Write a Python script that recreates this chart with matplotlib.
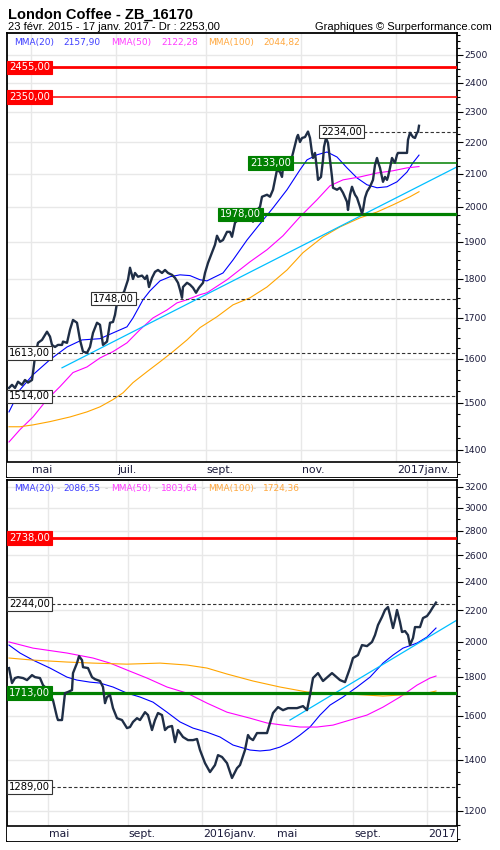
import matplotlib
matplotlib.use("Agg")
import matplotlib.pyplot as plt
from matplotlib.patches import Rectangle
from matplotlib.ticker import FixedLocator, FormatStrFormatter, NullFormatter
import matplotlib.transforms as mtransforms

# DAILY PANEL (x = session index)
top_x = [0, 3, 6, 9, 13, 16, 19, 23, 24, 26, 29, 33, 38, 41, 43, 46, 49, 53, 54, 58,
         61, 64, 68, 71, 74, 78, 81, 84, 88, 91, 94, 98, 101, 104, 106, 108, 109, 115, 119, 121,
         124, 126, 129, 133, 136, 138, 140, 143, 146, 149, 153, 156, 159, 163, 166, 169, 171, 173, 174, 178,
         181, 184, 187, 190, 194, 196, 199, 203, 206, 208, 211, 214, 218, 221, 223, 226, 229, 233, 238, 244,
         248, 251, 253, 258, 261, 264, 266, 268, 271, 273, 274, 278, 281, 283, 286, 288, 289, 291, 293, 296,
         299, 301, 303, 304, 306, 308, 309, 312, 314, 315, 317, 319, 321, 323, 324, 328, 331, 334, 338, 339,
         341, 343, 344, 346, 348, 351, 353, 354, 356, 358, 361, 364, 366, 368, 369, 371, 373, 374, 376, 378,
         379, 381, 383, 384, 386, 388, 389, 393, 398, 399, 401, 404, 406, 408, 409, 410]
top_close = [1533, 1540, 1533, 1547, 1540, 1551, 1545, 1551, 1568, 1605, 1638, 1645, 1665, 1653, 1633, 1628, 1633, 1633, 1641, 1638,
             1670, 1694, 1687, 1645, 1617, 1614, 1628, 1662, 1687, 1682, 1633, 1641, 1687, 1689, 1707, 1737, 1752, 1765, 1797, 1829,
             1799, 1815, 1805, 1808, 1799, 1808, 1778, 1802, 1818, 1823, 1815, 1823, 1815, 1810, 1802, 1789, 1771, 1750, 1778, 1789,
             1784, 1776, 1763, 1776, 1789, 1815, 1842, 1870, 1892, 1917, 1900, 1905, 1928, 1928, 1914, 1954, 1962, 1962, 1982, 1957,
             1991, 2000, 2030, 2036, 2030, 2051, 2081, 2112, 2105, 2090, 2118, 2127, 2143, 2152, 2191, 2216, 2223, 2200, 2213, 2216,
             2234, 2213, 2165, 2149, 2165, 2112, 2081, 2090, 2143, 2184, 2213, 2197, 2143, 2090, 2057, 2051, 2057, 2042, 2015, 1991,
             2036, 2060, 2051, 2036, 2027, 2000, 1980, 1991, 2027, 2045, 2060, 2081, 2127, 2149, 2137, 2118, 2090, 2075, 2090, 2081,
             2090, 2118, 2149, 2143, 2134, 2159, 2165, 2165, 2165, 2207, 2230, 2216, 2213, 2230, 2233, 2253]

top_ma20_x = [0, 11, 24, 41, 58, 73, 91, 104, 118, 124, 134, 141, 151, 161, 171, 181, 191, 198, 204, 214,
              224, 238, 251, 264, 278, 291, 298, 308, 318, 328, 338, 348, 358, 368, 378, 388, 398, 404, 410]
top_ma20 = [1480, 1529, 1563, 1598, 1628, 1645, 1648, 1662, 1677, 1699, 1745, 1768, 1794, 1805, 1810, 1808, 1797, 1794, 1802, 1815,
            1850, 1905, 1951, 1997, 2051, 2112, 2143, 2159, 2168, 2152, 2118, 2087, 2066, 2057, 2060, 2075, 2105, 2134, 2158]

top_ma50_x = [0, 11, 24, 38, 51, 64, 78, 91, 104, 118, 131, 144, 158, 168, 178, 191, 198, 218, 241, 258,
              274, 291, 308, 321, 334, 351, 368, 384, 398, 410]
top_ma50 = [1416, 1442, 1469, 1507, 1536, 1568, 1581, 1602, 1617, 1638, 1670, 1699, 1719, 1737, 1745, 1758, 1763, 1797, 1845, 1878,
            1917, 1971, 2021, 2063, 2081, 2090, 2102, 2109, 2118, 2122]

top_ma100_x = [0, 11, 24, 41, 61, 78, 91, 104, 114, 124, 138, 151, 164, 178, 191, 208, 224, 241, 258, 278,
               294, 314, 331, 351, 368, 384, 401, 410]
top_ma100 = [1448, 1448, 1452, 1459, 1469, 1480, 1491, 1507, 1522, 1545, 1570, 1593, 1617, 1645, 1675, 1702, 1732, 1750, 1778, 1823,
             1870, 1914, 1942, 1968, 1985, 2006, 2030, 2045]

top_trend_x = [53, 448]
top_trend = [1579, 2121]

top_levels = [2455, 2350, 2234, 2133, 1978, 1748, 1613, 1514]
top_level_from = [-2, -2, 310, 239, 209, 82, -2, -2]
top_level_kind = ["res2", "res", "dash", "sup", "sup2", "dash", "dash", "dash"]

top_months = ["mai", "juil.", "sept.", "nov.", "2017janv."]
top_month_x = [21.7, 106.7, 196.7, 291.7, 386.7]
top_ma_last = ["2157,90", "2122,28", "2044,82"]

# WEEKLY PANEL
low_x = [0, 3, 6, 9, 14, 18, 23, 26, 31, 34, 39, 44, 48, 49, 53, 56, 59, 63, 64, 68,
         70, 73, 74, 79, 83, 86, 91, 94, 96, 98, 101, 104, 108, 113, 118, 121, 124, 128, 131, 136,
         139, 143, 146, 149, 153, 156, 159, 163, 166, 169, 174, 179, 184, 188, 191, 196, 201, 206, 209, 213,
         218, 223, 228, 231, 236, 239, 241, 244, 248, 253, 258, 261, 264, 269, 274, 279, 283, 288, 294, 298,
         301, 304, 309, 314, 323, 331, 336, 341, 344, 349, 353, 358, 363, 366, 369, 373, 376, 379, 381, 384,
         386, 388, 391, 393, 396, 399, 401, 404, 406, 411, 414, 418, 421, 424, 427]
low_close = [1848, 1766, 1793, 1798, 1793, 1782, 1809, 1798, 1793, 1755, 1729, 1677, 1593, 1579, 1579, 1713, 1719, 1729, 1820, 1876,
             1916, 1893, 1853, 1848, 1798, 1787, 1777, 1745, 1662, 1693, 1703, 1637, 1588, 1579, 1541, 1546, 1570, 1588, 1579, 1617,
             1603, 1532, 1579, 1613, 1603, 1532, 1546, 1551, 1477, 1532, 1500, 1486, 1486, 1491, 1442, 1386, 1349, 1378, 1420, 1412,
             1386, 1325, 1365, 1378, 1442, 1509, 1495, 1486, 1518, 1518, 1518, 1565, 1613, 1642, 1627, 1637, 1637, 1637, 1647, 1627,
             1703, 1793, 1820, 1777, 1820, 1782, 1771, 1848, 1905, 1922, 1981, 1975, 2000, 2042, 2105, 2157, 2203, 2223, 2170, 2086,
             2137, 2203, 2124, 2061, 2067, 2042, 1981, 2024, 2092, 2092, 2150, 2163, 2190, 2223, 2253]

low_ma20_x = [0, 11, 24, 41, 58, 68, 81, 91, 104, 118, 131, 144, 158, 171, 184, 198, 211, 224, 234, 241,
              251, 261, 271, 281, 291, 301, 311, 321, 334, 348, 361, 374, 384, 394, 408, 418, 427]
low_ma20 = [1981, 1934, 1893, 1848, 1798, 1782, 1771, 1766, 1745, 1713, 1693, 1667, 1617, 1570, 1541, 1522, 1500, 1464, 1451, 1442,
            1438, 1442, 1455, 1477, 1509, 1546, 1603, 1652, 1693, 1745, 1798, 1876, 1922, 1963, 1993, 2030, 2086]

low_ma50_x = [0, 24, 58, 84, 101, 118, 138, 158, 178, 198, 218, 241, 258, 274, 291, 308, 324, 341, 358, 374,
              391, 408, 421, 427]
low_ma50 = [2000, 1963, 1934, 1905, 1876, 1837, 1793, 1745, 1713, 1662, 1617, 1588, 1565, 1555, 1546, 1546, 1555, 1579, 1603, 1642,
            1693, 1755, 1793, 1804]

low_ma100_x = [0, 24, 58, 84, 118, 151, 178, 198, 218, 244, 271, 298, 314, 341, 374, 391, 418, 427]
low_ma100 = [1905, 1893, 1882, 1876, 1870, 1876, 1865, 1848, 1815, 1777, 1745, 1719, 1713, 1708, 1698, 1703, 1713, 1724]

low_trend_x = [281, 448]
low_trend = [1579, 2137]

low_levels = [2738, 2244, 1713, 1289]
low_level_from = [-2, -2, -2, -2]
low_level_kind = ["res2", "dash", "sup2", "dash"]

low_months = ["mai", "sept.", "2016janv.", "mai", "sept.", "2017"]
low_month_x = [39.3, 118.7, 192.7, 266.7, 344.3, 417.7]
low_ma_last = ["2086,55", "1803,64", "1724,36"]


# MATPLOTLIB PARAMS
plt.rcParams['font.family'] = ['DejaVu Sans']
plt.rcParams['axes.linewidth'] = 1.3

W, H = 500., 850.
C_PRICE = '#1f2e46'
C_MA = ['#0000ff', '#ff00ff', '#ffa500']
C_LEG = ['#3f3fff', '#ff3fff', '#ffa83f']
C_TREND = '#00bfff'
C_TXT = '#1a1a3a'

STYLE = {"res2": dict(color='#ff0000', lw=2.0, ls='-', fc='#ff0000', tc='white', ec='#ff0000'),
         "res":  dict(color='#ff0000', lw=1.1, ls='-', fc='#ff0000', tc='white', ec='#ff0000'),
         "sup2": dict(color='#008000', lw=2.3, ls='-', fc='#008000', tc='white', ec='#008000'),
         "sup":  dict(color='#008000', lw=1.1, ls='-', fc='#008000', tc='white', ec='#008000'),
         "dash": dict(color='#333333', lw=0.8, ls=(0, (3, 2)), fc='white', tc='black', ec='#333333')}


def MakeAxes(top_px, bot_px):
    return plt.gcf().add_axes([7 / W, 1 - bot_px / H, 450 / W, (bot_px - top_px) / H])


def DrawPanel(ax, ylim, majors, minors, strip_px, height_px,
              xs, close, ma_x, ma_y, tr_x, tr_y,
              levels, lev_from, lev_kind, months, month_x, ma_last, seps):
    ax.set_yscale('log')
    ax.set_ylim(*ylim)
    ax.set_xlim(-2, 448)

    # GRID
    ax.set_xticks(month_x)
    ax.tick_params(axis='x', length=0, labelbottom=False)
    ax.yaxis.tick_right()
    ax.yaxis.set_major_locator(FixedLocator(majors))
    ax.yaxis.set_minor_locator(FixedLocator(minors))
    ax.yaxis.set_major_formatter(FormatStrFormatter('%d'))
    ax.yaxis.set_minor_formatter(NullFormatter())
    ax.tick_params(axis='y', which='major', direction='out', length=4, width=0.8,
                   labelsize=6.6, labelcolor=C_TXT, pad=1)
    ax.tick_params(axis='y', which='minor', direction='out', length=2.5, width=0.8)
    ax.grid(True, which='major', color='#e8e8e8', lw=1.0)
    ax.set_axisbelow(True)

    # MOVING AVERAGES, TREND, PRICE
    for mx, my, c in zip(ma_x, ma_y, C_MA):
        ax.plot(mx, my, color=c, lw=0.8, zorder=2)
    ax.plot(tr_x, tr_y, color=C_TREND, lw=0.9, zorder=2)

    # LEVELS
    for lvl, x0, kind in zip(levels, lev_from, lev_kind):
        st = STYLE[kind]
        ax.hlines(lvl, x0, 448, colors=st['color'], lw=st['lw'], linestyles=st['ls'], zorder=3)
        ax.annotate(("%.2f" % lvl).replace('.', ','), xy=(x0, lvl), xytext=(1.5, 0),
                    textcoords='offset points', ha='left', va='center', fontsize=7.2,
                    color=st['tc'], zorder=7, annotation_clip=False,
                    bbox=dict(boxstyle='square,pad=0.18', fc=st['fc'], ec=st['ec'], lw=0.8))

    ax.plot(xs, close, color=C_PRICE, lw=1.7, zorder=4)

    # DATE STRIP
    sf = strip_px / height_px
    ax.add_patch(Rectangle((0, 0), 1, sf, transform=ax.transAxes, fc='white', ec='none', zorder=8))
    ax.plot([0, 1], [sf, sf], transform=ax.transAxes, color='black', lw=1.2, zorder=9)
    trans = mtransforms.blended_transform_factory(ax.transData, ax.transAxes)
    for m, mx in zip(months, month_x):
        ax.text(mx + 1.2, sf * 0.45, m, transform=trans, fontsize=7.8, color=C_TXT,
                ha='left', va='center', zorder=10)

    # LEGEND TEXT
    ly = 1 - 9.0 / height_px
    names = ["MMA(20)", "MMA(50)", "MMA(100)"]
    name_px = [14, 111, 208]
    val_px = [63, 161, 263]
    for i in range(3):
        ax.text((name_px[i] - 7) / 450., ly, names[i], transform=ax.transAxes, fontsize=6.5,
                color=C_LEG[i], ha='left', va='center', zorder=10)
        ax.text((val_px[i] - 7) / 450., ly, ma_last[i], transform=ax.transAxes, fontsize=6.5,
                color=C_LEG[i], ha='left', va='center', zorder=10)
    if seps:
        for sp in [58, 106, 156, 203, 254]:
            ax.text((sp - 7) / 450., ly, "-", transform=ax.transAxes, fontsize=6.5,
                    color='#c8c8c8', ha='center', va='center', zorder=10)

    for s in ax.spines.values():
        s.set_color('black')
        s.set_linewidth(1.3)


fig = plt.figure(figsize=(W / 100, H / 100), dpi=100)

# TOP : DAILY
ax1 = MakeAxes(33, 477)
DrawPanel(ax1, (1345, 2582), list(range(1400, 2600, 100)), list(range(1350, 2600, 25)),
          15, 444, top_x, top_close,
          [top_ma20_x, top_ma50_x, top_ma100_x], [top_ma20, top_ma50, top_ma100],
          top_trend_x, top_trend, top_levels, top_level_from, top_level_kind,
          top_months, top_month_x, top_ma_last, False)

# BOTTOM : WEEKLY
ax2 = MakeAxes(480, 841)
DrawPanel(ax2, (1095, 3265), list(range(1200, 3300, 200)),
          list(range(1100, 2000, 50)) + list(range(2100, 3300, 200)),
          15, 361, low_x, low_close,
          [low_ma20_x, low_ma50_x, low_ma100_x], [low_ma20, low_ma50, low_ma100],
          low_trend_x, low_trend, low_levels, low_level_from, low_level_kind,
          low_months, low_month_x, low_ma_last, True)

# TITLES
fig.text(8 / W, 1 - 18.5 / H, "London Coffee - ZB_16170", fontsize=10.5, fontweight='bold',
         family=['Liberation Sans', 'DejaVu Sans'], ha='left', va='baseline', color='black')
fig.text(8 / W, 1 - 29.5 / H, "23 févr. 2015 - 17 janv. 2017 - Dr : 2253,00", fontsize=8,
         family=['Liberation Sans', 'DejaVu Sans'], ha='left', va='baseline', color='black')
fig.text(492 / W, 1 - 29.5 / H, "Graphiques © Surperformance.com", fontsize=8,
         family=['Liberation Sans', 'DejaVu Sans'], ha='right', va='baseline', color='black')

fig.savefig("out.png", dpi=100)
